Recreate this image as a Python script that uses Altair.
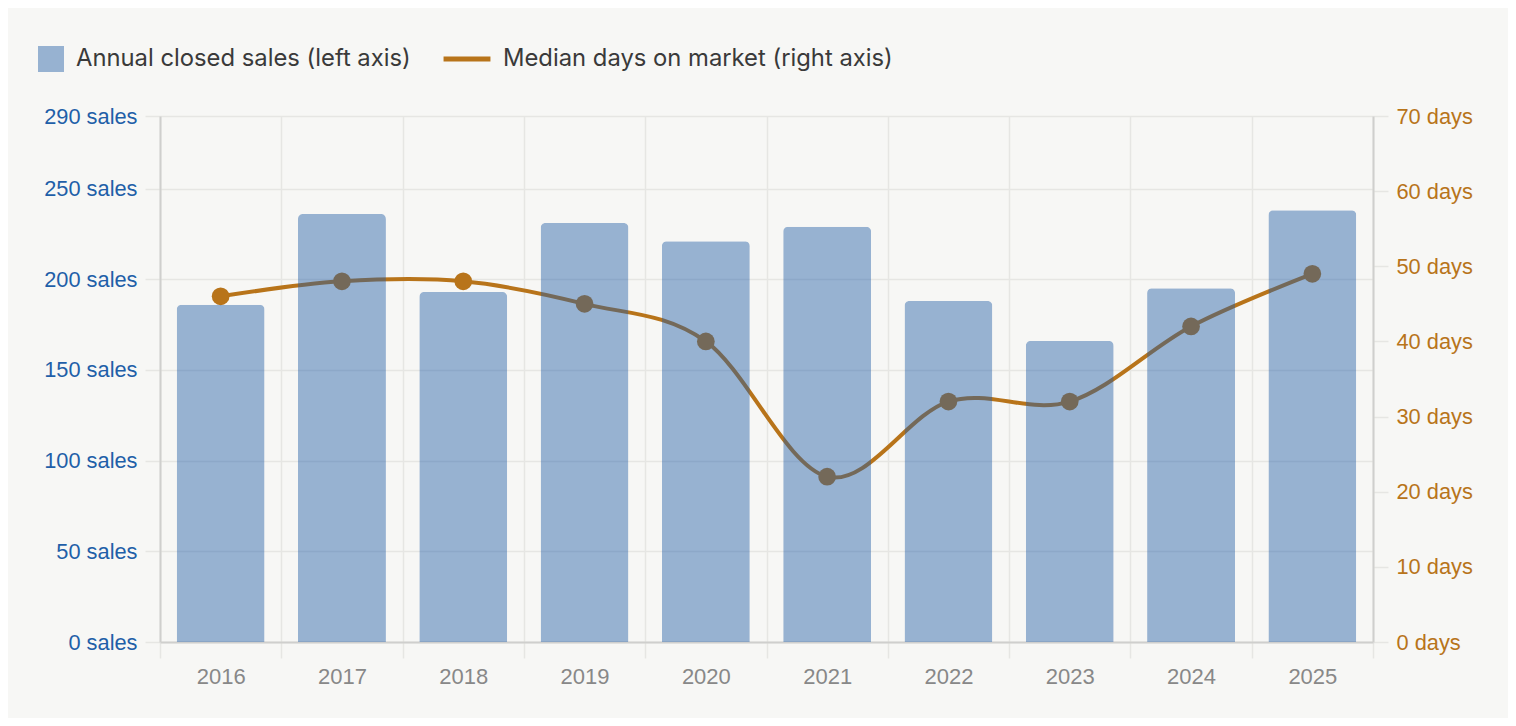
import altair as alt
import pandas as pd

years = ["2016", "2017", "2018", "2019", "2020", "2021", "2022", "2023", "2024", "2025"]
sales = [186, 236, 193, 231, 221, 229, 188, 166, 195, 238]
days = [46, 48, 48, 45, 40, 22, 32, 32, 42, 49]
sales_ticks = [0, 50, 100, 150, 200, 250, 290]
days_ticks = [0, 10, 20, 30, 40, 50, 60, 70]
label_sales = "Annual closed sales (left axis)"
label_days = "Median days on market (right axis)"

BG = "#f7f7f5"
BLUE = "#225ea6"
ORANGE = "#b8741a"
GRID = "#e6e6e3"
DOMAIN = "#cfcfcd"

df = pd.DataFrame({"year": years, "sales": sales, "days": days,
                   "s1": label_sales, "s2": label_days})

x_enc = alt.X(
    "year:N", sort=years, title=None,
    scale=alt.Scale(paddingInner=0, paddingOuter=0),
    axis=alt.Axis(labelAngle=0, tickBand="extent", grid=True, gridColor=GRID, gridWidth=1.5,
                  ticks=True, tickSize=16, tickColor=GRID, tickWidth=1.5,
                  domain=True, domainColor=DOMAIN, domainWidth=2,
                  labelFont="Liberation Sans", labelFontSize=22, labelColor="#888888",
                  labelPadding=8),
)

y_days = alt.Y(
    "days:Q", title=None,
    scale=alt.Scale(domain=[0, 70], nice=False),
    axis=alt.Axis(orient="right", values=days_ticks, labelExpr="datum.value + ' days'",
                  grid=False, tickSize=15, tickColor=GRID, tickWidth=1.5,
                  domain=True, domainColor=DOMAIN, domainWidth=2,
                  labelFont="Liberation Sans", labelFontSize=21.8, labelColor=ORANGE,
                  labelPadding=8),
)

y_sales = alt.Y(
    "sales:Q", title=None,
    scale=alt.Scale(domain=[0, 290], nice=False),
    axis=alt.Axis(orient="left", values=sales_ticks, labelExpr="datum.value + ' sales'",
                  grid=True, gridColor=GRID, gridWidth=1.5,
                  tickSize=15, tickColor=GRID, tickWidth=1.5,
                  domain=True, domainColor=DOMAIN, domainWidth=2,
                  labelFont="Liberation Sans", labelFontSize=21.8, labelColor="#1f5fa8",
                  labelPadding=8),
)

base = alt.Chart(df)

line = base.mark_line(interpolate="cardinal", strokeWidth=4, strokeCap="round").encode(
    x=x_enc, y=y_days,
    stroke=alt.Stroke("s2:N", scale=alt.Scale(domain=[label_days], range=[ORANGE]),
                      legend=alt.Legend(title=None, orient="none", legendX=281, legendY=-83,
                                        symbolType="stroke", symbolSize=2200, symbolStrokeWidth=5,
                                        labelFont="Inter", labelFontSize=23.8, labelColor="#3a3a3a",
                                        labelOffset=10, labelLimit=0, padding=0)),
)

points = base.mark_circle(size=314, opacity=1, color=ORANGE).encode(x=x_enc, y=y_days)

bars = base.mark_bar(opacity=0.45, cornerRadiusTopLeft=5, cornerRadiusTopRight=5,
                     width=alt.RelativeBandSize(0.725)).encode(
    x=x_enc, y=y_sales,
    fill=alt.Fill("s1:N", scale=alt.Scale(domain=[label_sales], range=[BLUE]),
                  legend=alt.Legend(title=None, orient="none", legendX=-122, legendY=-70,
                                    symbolType="square", symbolSize=676, symbolOpacity=0.45,
                                    symbolStrokeWidth=0,
                                    labelFont="Inter", labelFontSize=23.8, labelColor="#3a3a3a",
                                    labelOffset=12, labelLimit=0, padding=0)),
)

chart = alt.layer(alt.layer(line, points), bars).resolve_scale(
    y="independent"
).properties(
    width=1213, height=526,
    padding={"left": 152, "top": 108, "right": 135, "bottom": 76},
    autosize=alt.AutoSizeParams(type="none"),
    background=BG,
).configure_view(stroke=None)

chart.save("out.html", embed_options={"renderer": "svg", "actions": False})
